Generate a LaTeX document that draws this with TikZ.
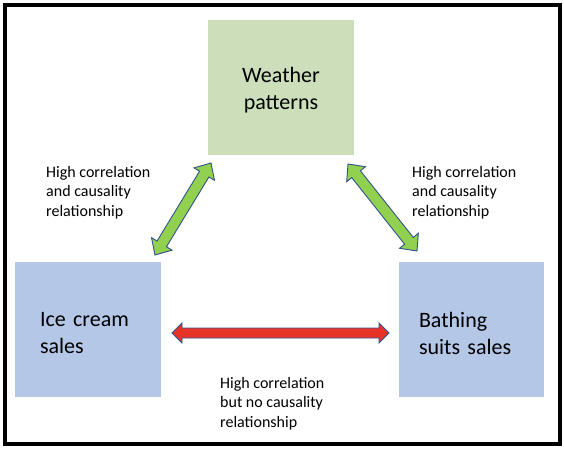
\documentclass[tikz,border=0pt]{standalone}
\usepackage{fontspec}
\setmainfont{Carlito}
\usetikzlibrary{calc}
\definecolor{boxgreen}{RGB}{204,223,186}
\definecolor{boxblue}{RGB}{180,199,231}
\definecolor{arrgreen}{RGB}{146,208,80}
\definecolor{arrred}{RGB}{232,52,40}
\definecolor{arrline}{RGB}{47,82,143}
% #1 from, #2 to, #3 half shaft, #4 half head, #5 head length, #6 style
\newcommand\blockarrow[6]{%
  \draw[#6] (#1)
    -- ($(#1)!#5!(#2)!#4!90:(#2)$)
    -- ($(#1)!#5!(#2)!#3!90:(#2)$)
    -- ($(#2)!#5!(#1)!#3!-90:(#1)$)
    -- ($(#2)!#5!(#1)!#4!-90:(#1)$)
    -- (#2)
    -- ($(#2)!#5!(#1)!#4!90:(#1)$)
    -- ($(#2)!#5!(#1)!#3!90:(#1)$)
    -- ($(#1)!#5!(#2)!#3!-90:(#2)$)
    -- ($(#1)!#5!(#2)!#4!-90:(#2)$)
    -- cycle;}
\newcommand\toppad[1]{\rule{0pt}{#1}}
\begin{document}
\begin{tikzpicture}[x=1pt,y=-1pt,
  box/.style={draw=none, inner ysep=0pt, minimum height=135pt,
    font=\fontsize{22}{27}\selectfont},
  lbl/.style={inner sep=0pt, align=left, font=\fontsize{16}{19.5}\selectfont},
  garrow/.style={fill=arrgreen, draw=arrline, line width=0.9pt, line join=miter},
  rarrow/.style={fill=arrred, draw=arrline, line width=0.9pt, line join=miter}]
\useasboundingbox (0,0) rectangle (564,452);
\draw[line width=4pt] (5,5.5) rectangle (559.5,444);

\node[box, fill=boxgreen, minimum width=146pt, align=center] (weather) at (281,87.5)
  {\toppad{21pt}Weather\\patterns};
\node[box, fill=boxblue, text width=96pt, inner xsep=25pt, align=left] (ice) at (88,329.5)
  {\toppad{20.5pt}Ice cream\\sales};
\node[box, fill=boxblue, text width=105pt, inner xsep=20pt, align=left] (bath) at (471.5,329.5)
  {\toppad{23pt}Bathing\\suits sales};

\node[lbl, anchor=north west] (lblL) at (46,166) {High correlation\\and causality\\relationship};
\node[lbl, anchor=north west] (lblR) at (412,166) {High correlation\\and causality\\relationship};
\node[lbl, anchor=north west] (lblB) at (220,377) {High correlation\\but no causality\\relationship};

\coordinate (lgA) at (155,255);
\coordinate (lgB) at (211,163);
\coordinate (rgA) at (348,164);
\coordinate (rgB) at (417,251);
\coordinate (rdA) at (172,333);
\coordinate (rdB) at (389,333);

\blockarrow{lgA}{lgB}{5.5pt}{12pt}{13pt}{garrow}
\blockarrow{rgA}{rgB}{5.5pt}{12pt}{13pt}{garrow}
\blockarrow{rdA}{rdB}{5pt}{10pt}{10pt}{rarrow}
\end{tikzpicture}
\end{document}
